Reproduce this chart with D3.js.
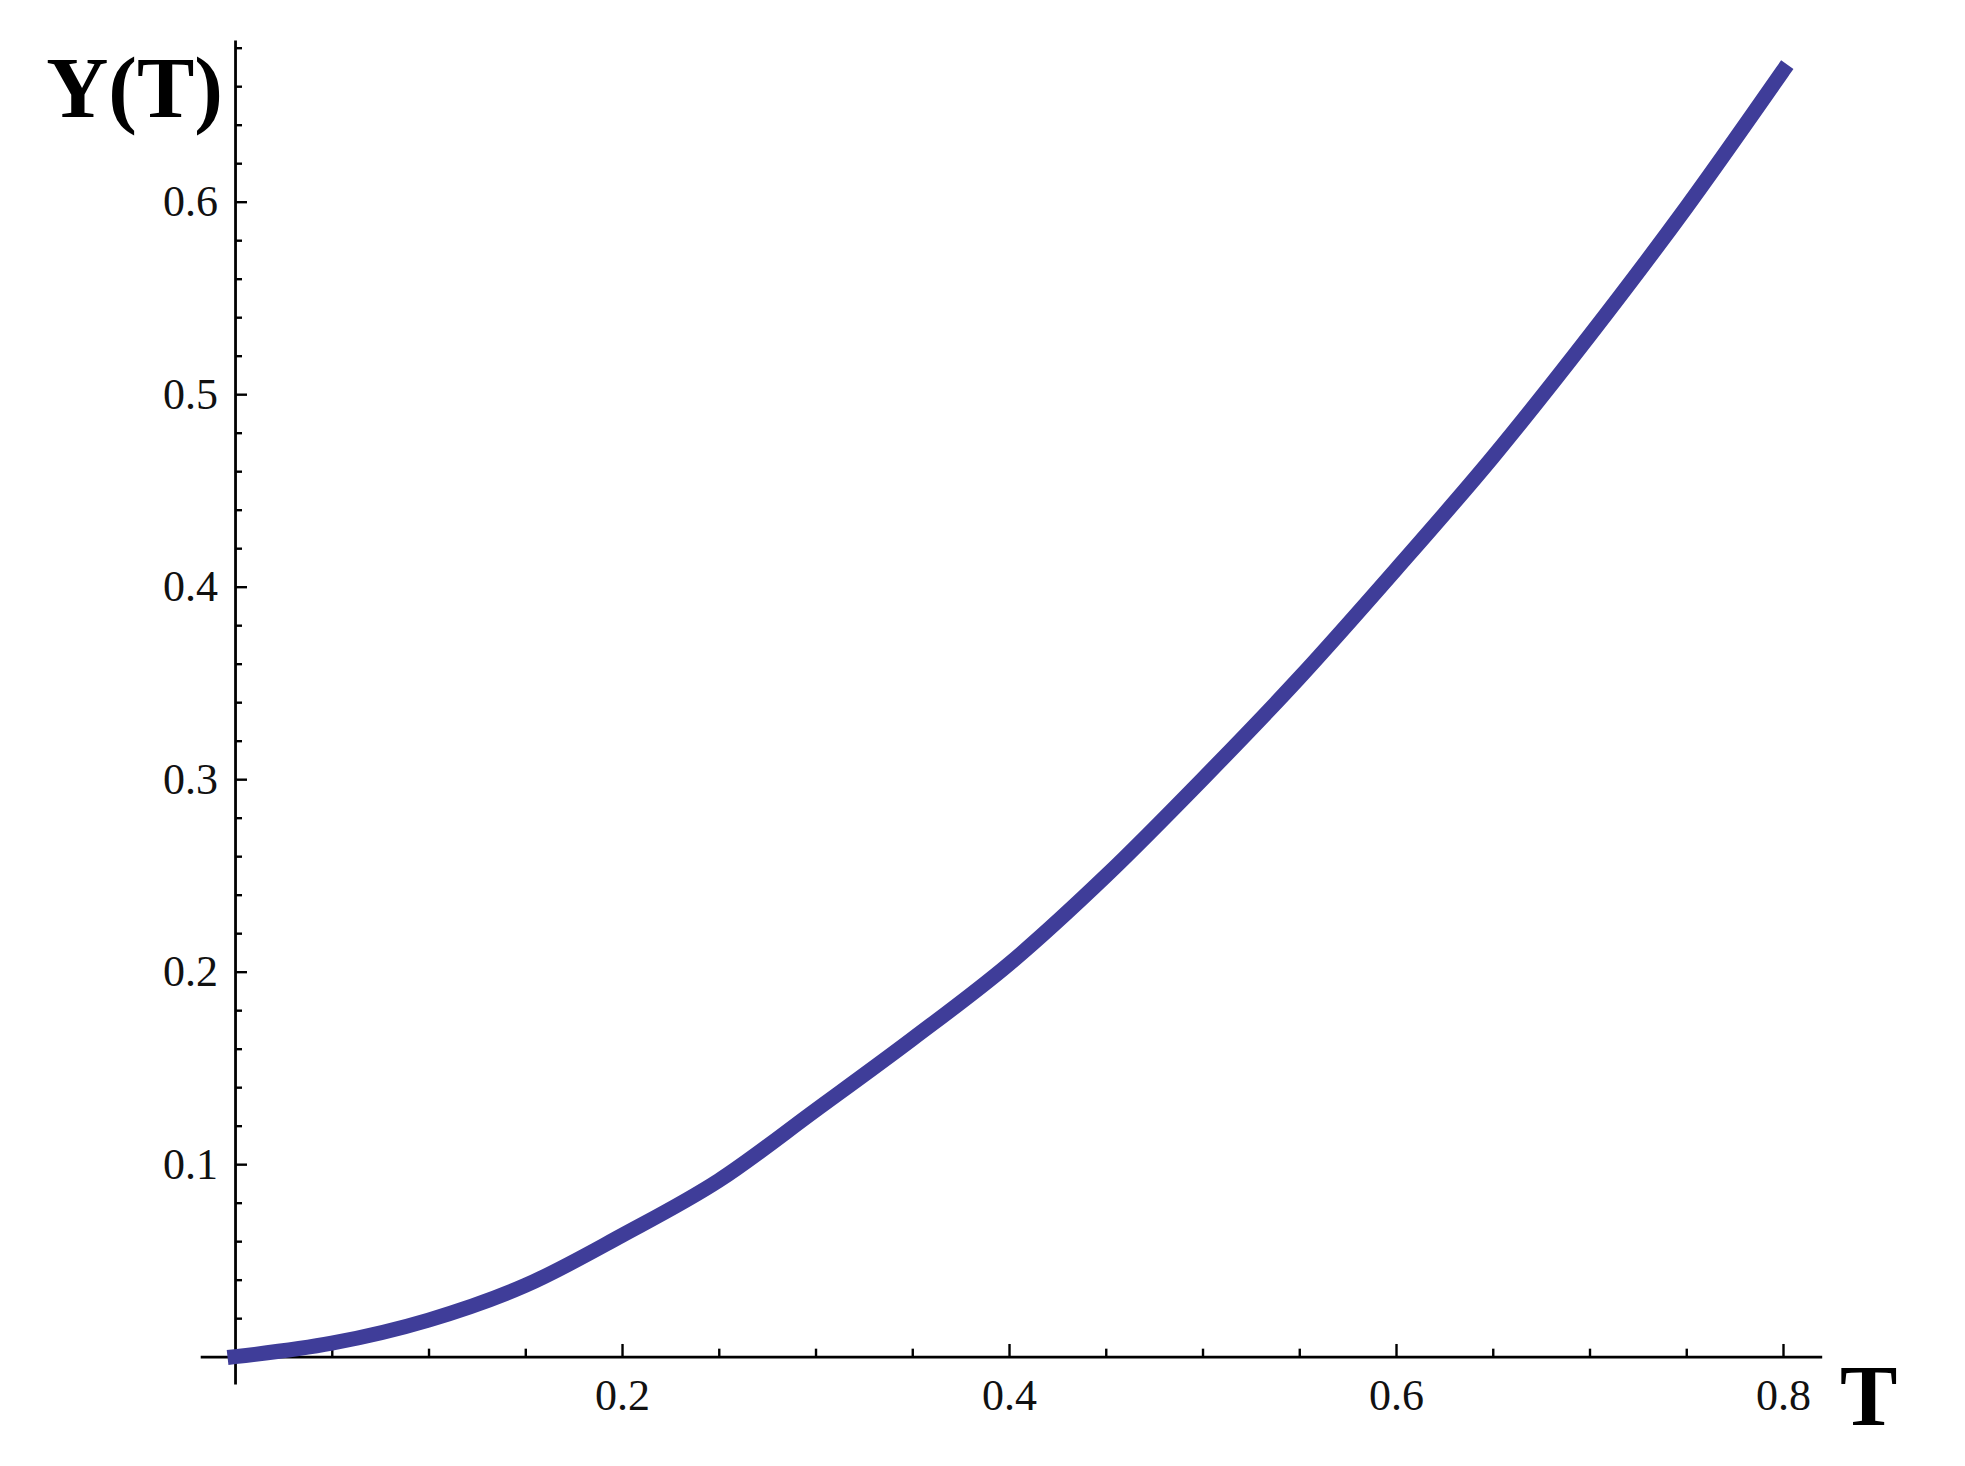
<!DOCTYPE html>
<html>
<head>
<meta charset="utf-8">
<script src="https://cdn.jsdelivr.net/npm/d3@7/dist/d3.min.js"></script>
<style>
body { margin: 0; background: #fff; }
text { font-family: 'Liberation Serif', 'Times New Roman', serif; }
</style>
</head>
<body>
<div id="chart"></div>
<script>
'use strict'

// values
const tValues = [0, 0.05, 0.1, 0.15, 0.2, 0.25, 0.3, 0.35, 0.4, 0.45, 0.5, 0.55, 0.6, 0.65, 0.7, 0.75, 0.8]
const yValues = [0, 0.007, 0.019, 0.037, 0.063, 0.0915, 0.128, 0.165, 0.204, 0.2497, 0.300, 0.3526, 0.409, 0.4673, 0.5304, 0.597, 0.668]

const xMajorTicks = [0.2, 0.4, 0.6, 0.8]
const xMinorTicks = [0.05, 0.1, 0.15, 0.25, 0.3, 0.35, 0.45, 0.5, 0.55, 0.65, 0.7, 0.75]
const yMajorTicks = [0.1, 0.2, 0.3, 0.4, 0.5, 0.6]
const yMinorTicks = [0.02, 0.04, 0.06, 0.08, 0.12, 0.14, 0.16, 0.18, 0.22, 0.24, 0.26, 0.28,
	0.32, 0.34, 0.36, 0.38, 0.42, 0.44, 0.46, 0.48, 0.52, 0.54, 0.56, 0.58, 0.62, 0.64, 0.66, 0.68]

const width = 1965,
		height = 1466

const svg = d3.select('#chart').append('svg')
	.attr('width', width)
	.attr('height', height)

const x = d3.scaleLinear().domain([-0.018, 0.82]).range([200.2, 1821.7])
const y = d3.scaleLinear().domain([-0.0142, 0.684]).range([1384, 40])

const fmt = d3.format('.1f')

// x axis, ticks pointing up into the plot
svg.append('g')
	.attr('transform', `translate(0,${y(0)})`)
	.call(d3.axisBottom(x).tickValues(xMajorTicks).tickFormat(fmt)
		.tickSize(-12.7).tickSizeOuter(0).tickPadding(22))

svg.append('g')
	.attr('transform', `translate(0,${y(0)})`)
	.call(d3.axisBottom(x).tickValues(xMinorTicks).tickFormat('')
		.tickSize(-8).tickSizeOuter(0))
	.call(g => g.select('.domain').remove())

// y axis, ticks pointing right
svg.append('g')
	.attr('transform', `translate(${x(0)},0)`)
	.call(d3.axisLeft(y).tickValues(yMajorTicks).tickFormat(fmt)
		.tickSize(-12).tickSizeOuter(0).tickPadding(17))

svg.append('g')
	.attr('transform', `translate(${x(0)},0)`)
	.call(d3.axisLeft(y).tickValues(yMinorTicks).tickFormat('')
		.tickSize(-7).tickSizeOuter(0))
	.call(g => g.select('.domain').remove())

svg.selectAll('.domain')
	.attr('stroke', '#000')
	.attr('stroke-width', 2.8)
svg.selectAll('.tick line')
	.attr('stroke', '#000')
	.attr('stroke-width', 2.4)
svg.selectAll('.tick text')
	.attr('font-family', "'Liberation Serif', serif")
	.attr('font-size', 44)
	.attr('fill', '#111')

// the curve
const line = d3.line()
	.x((d, i) => x(tValues[i]))
	.y(d => y(d))
	.curve(d3.curveMonotoneX)

svg.append('path')
	.datum(yValues)
	.attr('d', line)
	.attr('fill', 'none')
	.attr('stroke', '#3f3d99')
	.attr('stroke-width', 15)
	.attr('stroke-linecap', 'square')

// axis labels
svg.append('text')
	.attr('x', 223)
	.attr('y', 117)
	.attr('text-anchor', 'end')
	.attr('font-size', 86)
	.attr('font-weight', 'bold')
	.text('Y(T)')

svg.append('text')
	.attr('x', 1840)
	.attr('y', 1425)
	.attr('font-size', 86)
	.attr('font-weight', 'bold')
	.text('T')
</script>
</body>
</html>
